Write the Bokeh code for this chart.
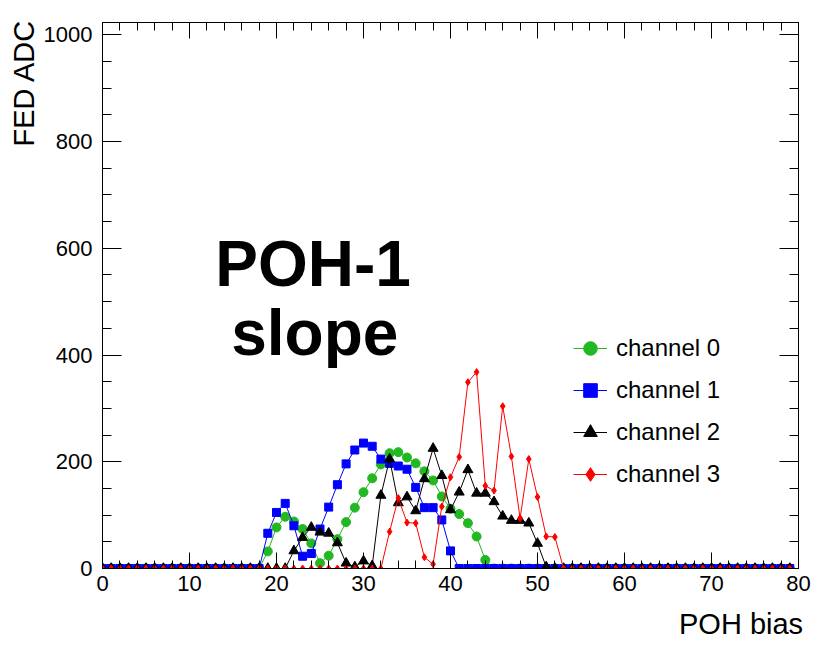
from bokeh.plotting import figure
from bokeh.models import (ColumnDataSource, Legend, LegendItem, Label, LinearAxis,
                          FixedTicker, Range1d)
from bokeh.embed import file_html
from bokeh.resources import INLINE

# ---------------- data ----------------
poh_bias = list(range(80))
channel_0 = [0] * 19 + [32, 77, 97, 88, 74, 47, 10, 24, 55, 87, 114, 143, 169, 195, 216,
                        218, 208, 197, 182, 165, 135, 112, 102, 85, 60, 16] + [0] * 35
channel_1 = [0] * 19 + [66, 105, 122, 80, 23, 28, 74, 115, 157, 196, 222, 235, 229, 205,
                        197, 192, 186, 152, 114, 114, 91, 33] + [0] * 39
channel_2 = [0] * 22 + [33, 58, 77, 68, 66, 48, 10, 3, 14, 5, 137, 205, 123, 134, 108,
                        168, 225, 174, 110, 143, 185, 141, 141, 125, 98, 90, 90, 85, 47, 3] + [0] * 28
channel_3 = [0] * 33 + [69, 132, 86, 85, 21, 8, 116, 171, 209, 349, 368, 155, 146, 304,
                        210, 94, 205, 134, 60, 59] + [0] * 27
series_names = ["channel 0", "channel 1", "channel 2", "channel 3"]
x_ticks = [0, 10, 20, 30, 40, 50, 60, 70, 80]
y_ticks = [0, 200, 400, 600, 800, 1000]
x_title = "POH bias"
y_title = "FED ADC"

FONT = "Liberation Sans"

p = figure(width=821, height=646, output_backend="svg", toolbar_location=None,
           x_range=Range1d(0, 80), y_range=Range1d(0, 1023),
           min_border_left=102, min_border_right=23, min_border_top=22, min_border_bottom=78)
p.grid.visible = False
p.outline_line_color = "black"
p.outline_line_width = 1
p.background_fill_color = "white"
p.border_fill_color = "white"

src = ColumnDataSource(dict(x=poh_bias, c0=channel_0, c1=channel_1, c2=channel_2, c3=channel_3))

styles = [
    ("c0", "#22b822", "circle", 9),
    ("c1", "#0000ff", "square", 8),
    ("c2", "#000000", "triangle", 10),
    ("c3", "#ff0000", "diamond", 7),
]
items = []
for (col, color, marker, size), name in zip(styles, series_names):
    ln = p.line("x", col, source=src, line_color=color, line_width=1)
    sc = p.scatter("x", col, source=src, marker=marker, size=size,
                   fill_color=color, line_color=color)
    items.append(LegendItem(label=name, renderers=[ln, sc]))

legend = Legend(items=items, location=(471, 73), background_fill_alpha=0,
                border_line_color=None, padding=0, margin=0, spacing=0,
                glyph_width=34, glyph_height=42, label_height=42, label_standoff=9,
                label_text_font=FONT, label_text_font_size="24px",
                label_text_color="black", label_text_baseline="middle")
p.add_layout(legend)

# axes
xa = p.xaxis[0]
xa.ticker = FixedTicker(ticks=x_ticks, minor_ticks=list(range(0, 81, 2)))
ya = p.yaxis[0]
ya.ticker = FixedTicker(ticks=y_ticks, minor_ticks=list(range(0, 1024, 50)))
for ax, maj, mnr in ((xa, 16, 8), (ya, 19, 9)):
    ax.major_tick_in = maj
    ax.major_tick_out = 0
    ax.minor_tick_in = mnr
    ax.minor_tick_out = 0
    ax.major_tick_line_color = "black"
    ax.minor_tick_line_color = "black"
    ax.axis_line_color = "black"
    ax.major_label_text_font = FONT
    ax.major_label_text_font_size = "22px"
    ax.major_label_text_color = "black"
xa.major_label_standoff = 7
ya.major_label_standoff = 10

top = LinearAxis(ticker=FixedTicker(ticks=x_ticks, minor_ticks=list(range(0, 81, 2))),
                 major_tick_in=16, major_tick_out=0, minor_tick_in=8, minor_tick_out=0,
                 major_label_overrides={t: "" for t in x_ticks},
                 major_tick_line_color="black", minor_tick_line_color="black",
                 axis_line_color="black")
right = LinearAxis(ticker=FixedTicker(ticks=y_ticks, minor_ticks=list(range(0, 1024, 50))),
                   major_tick_in=19, major_tick_out=0, minor_tick_in=9, minor_tick_out=0,
                   major_label_overrides={t: "" for t in y_ticks},
                   major_tick_line_color="black", minor_tick_line_color="black",
                   axis_line_color="black")
p.add_layout(top, "above")
p.add_layout(right, "right")

# axis titles, flush with the far end of each axis (ROOT style):
# drawn as the single label of an extra, otherwise invisible axis
X_TITLE_POS = 73.4   # centre of the title along x (data units)
Y_TITLE_POS = 910.0  # centre of the title along y (data units)
xt = LinearAxis(ticker=FixedTicker(ticks=[X_TITLE_POS], minor_ticks=[]),
                major_label_overrides={X_TITLE_POS: x_title},
                major_tick_in=0, major_tick_out=0, minor_tick_in=0, minor_tick_out=0,
                axis_line_color=None, major_tick_line_color=None, minor_tick_line_color=None,
                major_label_standoff=14, major_label_text_font=FONT,
                major_label_text_font_size="29px", major_label_text_color="black")
yt = LinearAxis(ticker=FixedTicker(ticks=[Y_TITLE_POS], minor_ticks=[]),
                major_label_overrides={Y_TITLE_POS: y_title},
                major_label_orientation="vertical",
                major_tick_in=0, major_tick_out=0, minor_tick_in=0, minor_tick_out=0,
                axis_line_color=None, major_tick_line_color=None, minor_tick_line_color=None,
                major_label_standoff=0, major_label_text_font=FONT,
                major_label_text_font_size="29px", major_label_text_color="black")
p.add_layout(xt, "below")
p.add_layout(yt, "left")

p.add_layout(Label(x=24.2, y=571, text="POH-1", text_font=FONT, text_font_size="64px",
                   text_font_style="bold", text_align="center", text_baseline="alphabetic",
                   text_color="black"))
p.add_layout(Label(x=24.4, y=442, text="slope", text_font=FONT, text_font_size="64px",
                   text_font_style="bold", text_align="center", text_baseline="alphabetic",
                   text_color="black"))

open("out.html", "w").write(file_html(p, INLINE))
